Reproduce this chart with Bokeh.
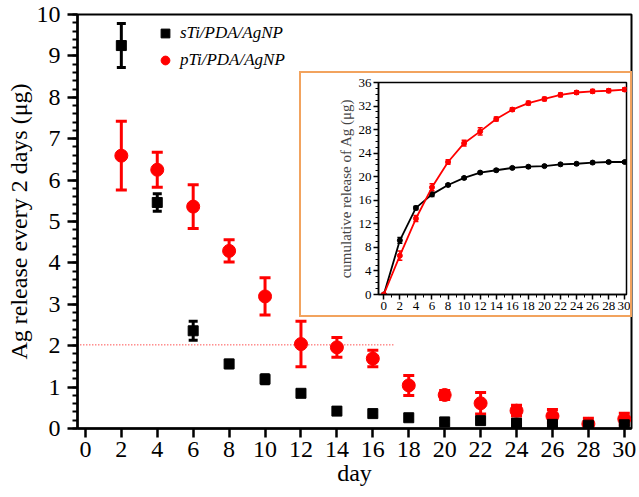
from bokeh.plotting import figure
from bokeh.models import (Range1d, SingleIntervalTicker, Whisker, ColumnDataSource,
                          Legend, LegendItem, TeeHead)
from bokeh.layouts import column
from bokeh.embed import file_html
from bokeh.resources import INLINE

# ---------------- data ----------------
days = [2, 4, 6, 8, 10, 12, 14, 16, 18, 20, 22, 24, 26, 28, 30]
sti_release = [9.25, 5.46, 2.36, 1.56, 1.19, 0.85, 0.42, 0.36, 0.26, 0.16, 0.19, 0.13, 0.10, 0.08, 0.09]
sti_err = [0.53, 0.21, 0.23, 0.09, 0.11, 0.06, 0.06, 0.05, 0.05, 0.05, 0.06, 0.05, 0.05, 0.05, 0.05]
pti_release = [6.59, 6.25, 5.36, 4.29, 3.19, 2.04, 1.96, 1.69, 1.04, 0.81, 0.61, 0.43, 0.30, 0.11, 0.23]
pti_err = [0.83, 0.42, 0.53, 0.27, 0.45, 0.55, 0.24, 0.20, 0.24, 0.11, 0.26, 0.13, 0.16, 0.14, 0.14]
ref_line_x = [-0.45, 17.2]
ref_line_y = [2.02, 2.02]

cum_days = [0, 2, 4, 6, 8, 10, 12, 14, 16, 18, 20, 22, 24, 26, 28, 30]
sti_cum = [0, 9.2, 14.7, 17.0, 18.6, 19.8, 20.7, 21.1, 21.5, 21.7, 21.8, 22.1, 22.2, 22.4, 22.5, 22.5]
sti_cum_err = [0, 0.5, 0.3, 0.35, 0.2, 0.2, 0.2, 0.2, 0.2, 0.2, 0.2, 0.2, 0.2, 0.2, 0.2, 0.2]
pti_cum = [0, 6.6, 12.9, 18.2, 22.5, 25.7, 27.7, 29.8, 31.4, 32.5, 33.2, 33.9, 34.3, 34.5, 34.6, 34.8]
pti_cum_err = [0, 0.8, 0.5, 0.6, 0.4, 0.5, 0.6, 0.35, 0.3, 0.3, 0.3, 0.3, 0.3, 0.3, 0.3, 0.3]

FONT = "Liberation Serif"
RED = "#FF0000"
ORANGE = "#F2A35E"

W, H = 639, 497

# ---------------- main figure ----------------
p = figure(width=W, height=H, x_range=Range1d(-0.44, 30.4), y_range=Range1d(0, 10),
           output_backend="svg", toolbar_location=None,
           min_border_left=77, min_border_right=6, min_border_top=14, min_border_bottom=69)
p.grid.visible = False
p.outline_line_color = "black"
p.outline_line_width = 2
p.background_fill_color = "white"
p.border_fill_color = "white"

p.xaxis.ticker = SingleIntervalTicker(interval=2, num_minor_ticks=0)
p.yaxis.ticker = SingleIntervalTicker(interval=1, num_minor_ticks=5)
for ax in (p.xaxis[0], p.yaxis[0]):
    ax.axis_line_width = 2.5
    ax.axis_line_color = "black"
    ax.major_tick_line_width = 2.5
    ax.minor_tick_line_width = 2
    ax.major_tick_in = 0
    ax.minor_tick_in = 0
    ax.major_label_text_font = FONT
    ax.major_label_text_color = "black"
    ax.axis_label_text_font = FONT
    ax.axis_label_text_font_style = "normal"
    ax.axis_label_text_color = "black"
p.yaxis.major_tick_out = 10
p.yaxis.minor_tick_out = 5
p.xaxis.major_tick_out = 9
p.yaxis.major_label_text_font_size = "24px"
p.xaxis.major_label_text_font_size = "24px"
p.yaxis.major_label_standoff = 7
p.xaxis.major_label_standoff = 4
p.yaxis.axis_label = "Ag release every 2 days (μg)"
p.xaxis.axis_label = "day"
p.yaxis.axis_label_text_font_size = "24px"
p.xaxis.axis_label_text_font_size = "24px"
p.yaxis.axis_label_standoff = 2
p.xaxis.axis_label_standoff = 0

sti_src = ColumnDataSource(dict(x=days, y=sti_release,
                                lo=[v - e for v, e in zip(sti_release, sti_err)],
                                hi=[v + e for v, e in zip(sti_release, sti_err)]))
pti_src = ColumnDataSource(dict(x=days, y=pti_release,
                                lo=[v - e for v, e in zip(pti_release, pti_err)],
                                hi=[v + e for v, e in zip(pti_release, pti_err)]))

p.line(x=ref_line_x, y=ref_line_y, line_color=RED, line_width=1, line_dash="1 2")

for src, col, cap in ((pti_src, RED, 11), (sti_src, "black", 9)):
    w = Whisker(source=src, base="x", lower="lo", upper="hi", line_color=col, line_width=3,
                upper_head=TeeHead(size=cap, line_color=col, line_width=3),
                lower_head=TeeHead(size=cap, line_color=col, line_width=3))
    w.level = "underlay"
    p.add_layout(w)

r_red = p.scatter(x="x", y="y", source=pti_src, marker="circle", size=13,
                  fill_color=RED, line_color=RED)
r_black = p.scatter(x="x", y="y", source=sti_src, marker="square", size=10,
                    fill_color="black", line_color="black")

legend = Legend(items=[LegendItem(label="sTi/PDA/AgNP", renderers=[r_black]),
                       LegendItem(label="pTi/PDA/AgNP", renderers=[r_red])],
                location=(77, 357), orientation="vertical")
legend.label_text_font = FONT
legend.label_text_font_style = "italic"
legend.label_text_font_size = "17px"
legend.label_text_color = "black"
legend.glyph_width = 22
legend.glyph_height = 22
legend.label_height = 22
legend.spacing = 5
legend.padding = 0
legend.margin = 0
legend.label_standoff = 4
legend.border_line_color = None
legend.background_fill_alpha = 0
p.add_layout(legend)

# ---------------- inset figure ----------------
IW, IH = 333, 246
q = figure(width=IW, height=IH, x_range=Range1d(-0.66, 30.22), y_range=Range1d(0, 36),
           output_backend="svg", toolbar_location=None,
           min_border_left=40, min_border_right=8, min_border_top=9, min_border_bottom=25,
           styles={"border": "2px solid " + ORANGE})
q.margin = (71 - H, 0, 0, 299)
q.grid.visible = False
q.outline_line_color = "black"
q.outline_line_width = 1.5
q.xaxis.ticker = SingleIntervalTicker(interval=2, num_minor_ticks=2)
q.yaxis.ticker = SingleIntervalTicker(interval=4, num_minor_ticks=4)
for ax in (q.xaxis[0], q.yaxis[0]):
    ax.axis_line_width = 1.5
    ax.major_tick_line_width = 1.5
    ax.minor_tick_line_width = 1
    ax.major_tick_in = 0
    ax.minor_tick_in = 0
    ax.major_tick_out = 5
    ax.minor_tick_out = 3
    ax.major_label_text_font = FONT
    ax.major_label_text_font_size = "13px"
    ax.major_label_text_color = "black"
    ax.major_label_standoff = 2
q.yaxis.axis_label = "cumulative release of Ag (μg)"
q.yaxis.axis_label_text_font = FONT
q.yaxis.axis_label_text_font_size = "15px"
q.yaxis.axis_label_text_font_style = "normal"
q.yaxis.axis_label_standoff = 2

sc_src = ColumnDataSource(dict(x=cum_days, y=sti_cum,
                               lo=[v - e for v, e in zip(sti_cum, sti_cum_err)],
                               hi=[v + e for v, e in zip(sti_cum, sti_cum_err)]))
pc_src = ColumnDataSource(dict(x=cum_days, y=pti_cum,
                               lo=[v - e for v, e in zip(pti_cum, pti_cum_err)],
                               hi=[v + e for v, e in zip(pti_cum, pti_cum_err)]))
for src, col in ((sc_src, "black"), (pc_src, RED)):
    q.line(x="x", y="y", source=src, line_color=col, line_width=1.8)
    w = Whisker(source=src, base="x", lower="lo", upper="hi", line_color=col, line_width=1.5,
                upper_head=TeeHead(size=5, line_color=col, line_width=1.5),
                lower_head=TeeHead(size=5, line_color=col, line_width=1.5))
    q.add_layout(w)
    q.scatter(x="x", y="y", source=src, marker="circle", size=5, fill_color=col, line_color=col)

layout = column(p, q)
open("out.html", "w").write(file_html(layout, INLINE))
